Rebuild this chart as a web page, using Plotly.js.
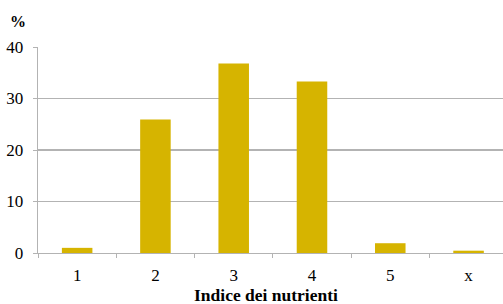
<!DOCTYPE html>
<html>
<head>
<meta charset="utf-8">
<script src="https://cdn.plot.ly/plotly-3.0.1.min.js"></script>
<style>html,body{margin:0;padding:0;background:#fff;}#chart{width:503px;height:304px;}</style>
</head>
<body>
<div id="chart"></div>
<script>
const categories = ["1", "2", "3", "4", "5", "x"];
const values = [1.0, 25.9, 36.8, 33.3, 1.9, 0.45];
const yTicks = [0, 10, 20, 30, 40];
const xTitle = "Indice dei nutrienti";
const yUnit = "%";

const font = "Liberation Serif";
const grid = "#b3b3b3";

Plotly.newPlot("chart", [{
  type: "bar",
  x: categories,
  y: values,
  marker: {color: "#D6B400", line: {width: 0}},
  hoverinfo: "none"
}], {
  width: 503, height: 304,
  margin: {l: 38, r: 0, t: 47, b: 51},
  paper_bgcolor: "#fff", plot_bgcolor: "#fff",
  bargap: 0.61,
  showlegend: false,
  font: {family: font, size: 17, color: "#000"},
  xaxis: {
    type: "category",
    range: [-0.5, 5.44],
    showgrid: false,
    showline: true, linecolor: grid, linewidth: 1.3,
    ticks: "outside", tickson: "boundaries", ticklen: 4, tickcolor: grid, tickwidth: 1,
    tickfont: {family: font, size: 17, color: "#000"},
    ticklabelstandoff: 6,
    zeroline: false,
    fixedrange: true
  },
  yaxis: {
    range: [0, 40],
    tickvals: yTicks,
    ticktext: yTicks.map(String),
    showgrid: true, gridcolor: grid, gridwidth: 1.3,
    showline: true, linecolor: grid, linewidth: 1.3,
    ticks: "outside", ticklen: 4, tickcolor: grid, tickwidth: 1,
    tickfont: {family: font, size: 17, color: "#000"},
    ticklabelstandoff: 6,
    zeroline: false,
    fixedrange: true
  },
  annotations: [
    {text: "<b>" + xTitle + "</b>", xref: "paper", yref: "paper", x: 0.4907, y: -0.202,
     xanchor: "center", yanchor: "middle", showarrow: false,
     font: {family: font, size: 17.5, color: "#000"}},
    {text: "<b>" + yUnit + "</b>", xref: "paper", yref: "paper", x: -0.042, y: 1.126,
     xanchor: "center", yanchor: "middle", showarrow: false,
     font: {family: font, size: 16, color: "#000"}}
  ]
}, {staticPlot: true, displayModeBar: false});
</script>
</body>
</html>
